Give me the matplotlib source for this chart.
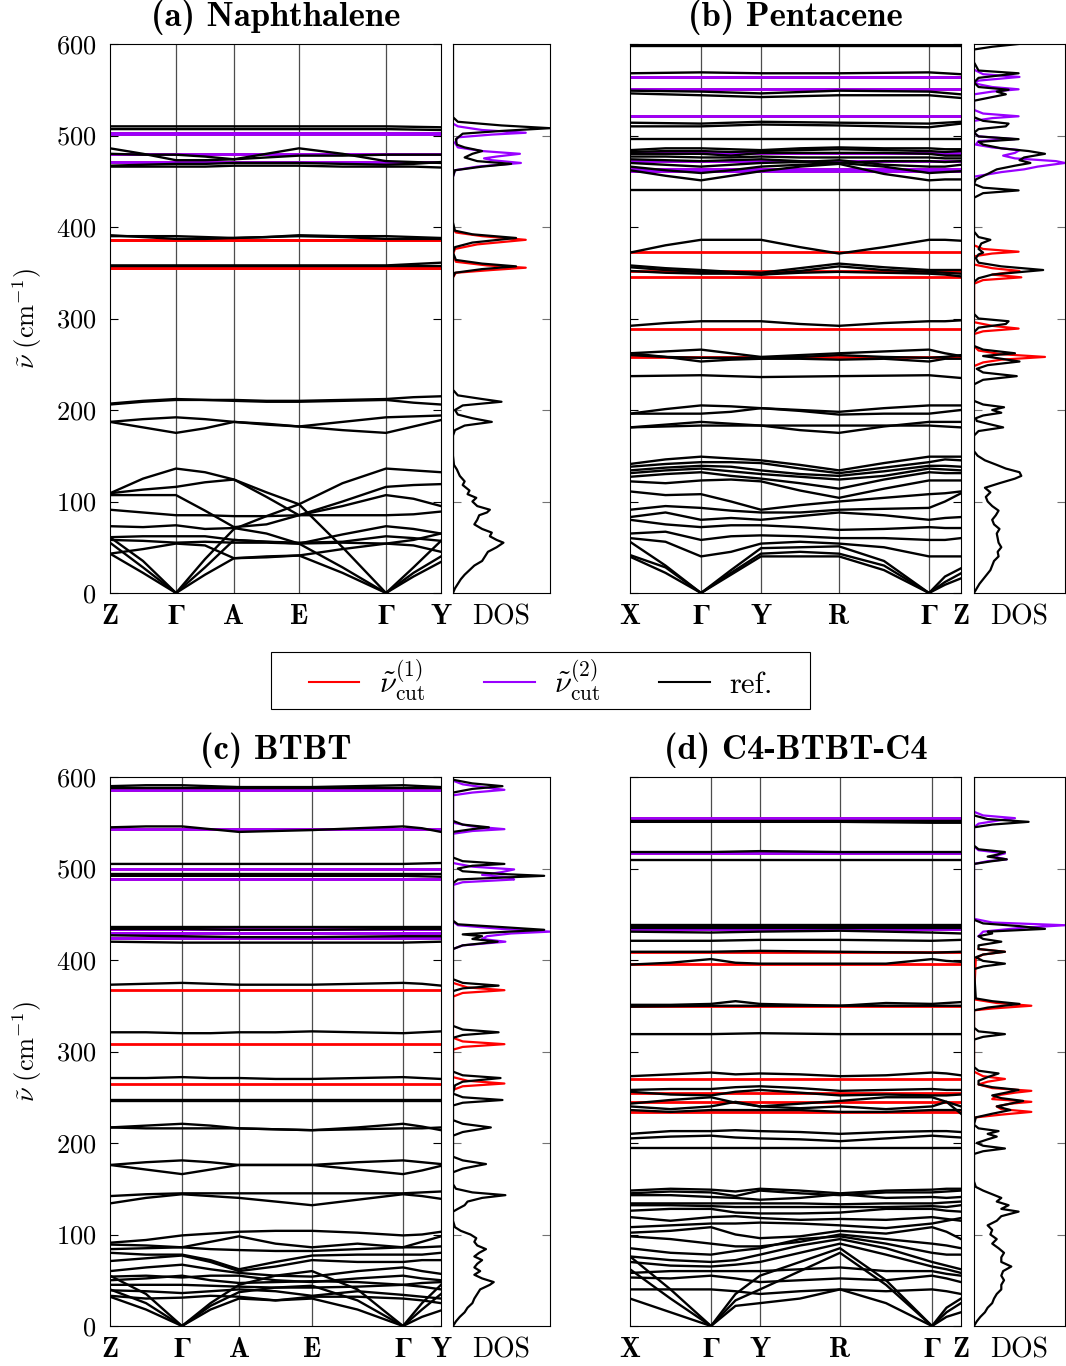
import numpy as np
import matplotlib.pyplot as plt
from matplotlib.lines import Line2D
from matplotlib.patches import Rectangle

plt.rcParams['mathtext.fontset'] = 'cm'
plt.rcParams['font.family'] = 'cmr10'
plt.rcParams['axes.formatter.use_mathtext'] = True

RED = '#ff0000'
PURPLE = '#9900ff'
BLACK = '#000000'

# ---------------- data ----------------
titles = ['(a) Naphthalene', '(b) Pentacene', '(c) BTBT', '(d) C4-BTBT-C4']
labels_ac = ['Z', r'$\mathbf{\Gamma}$', 'A', 'E', r'$\mathbf{\Gamma}$', 'Y']
labels_bd = ['X', r'$\mathbf{\Gamma}$', 'Y', 'R', r'$\mathbf{\Gamma}$', 'Z']
k_a = [0, 0.66, 1.24, 1.89, 2.76, 3.31]
k_b = [0, 0.71, 1.31, 2.09, 2.99, 3.31]
k_c = [0, 0.72, 1.29, 2.02, 2.93, 3.31]
k_d = [0, 0.81, 1.30, 2.10, 3.02, 3.31]

# bands: 6 values -> at high-symmetry points, 11 values -> also at segment midpoints
ref_a = [
    [510, 510, 510, 510, 510, 509],
    [507, 507, 507, 507, 507, 506],
    [486, 480, 473, 473, 474, 480, 486, 480, 472, 471, 470],
    [480, 479, 479, 477, 474, 476, 478, 478, 479, 479, 479],
    [467, 468, 469, 469, 470, 470, 470, 469, 468, 469, 471],
    [466, 466, 466, 466, 467, 467, 467, 466, 466, 466, 465],
    [391, 389, 387, 387, 388, 389, 390, 389, 387, 387, 387],
    [390, 390, 390, 389, 388, 389, 391, 390, 390, 389, 388],
    [358, 358, 358, 358, 358, 361],
    [357, 357, 357, 357, 357, 357],
    [207, 210, 212, 211, 211, 210, 210, 211, 212, 214, 215],
    [206, 209, 211, 211, 210, 209, 209, 210, 211, 208, 206],
    [187, 190, 192, 190, 187, 184, 182, 187, 192, 193, 194],
    [187, 181, 175, 180, 187, 185, 182, 178, 175, 182, 189],
    [109, 125, 136, 132, 124, 110, 97, 120, 136, 134, 132],
    [109, 113, 116, 121, 124, 105, 85, 100, 116, 118, 119],
    [107, 107, 107, 90, 72, 75, 85, 95, 107, 103, 95],
    [91, 88, 85, 85, 84, 84, 85, 85, 85, 86, 89],
    [73, 72, 74, 70, 71, 65, 54, 64, 73, 70, 65],
    [61, 62, 62, 62, 58, 56, 55, 56, 62, 60, 57],
    [58, 57, 55, 56, 55, 55, 54, 55, 54, 58, 65],
    [43, 48, 54, 52, 38, 39, 41, 48, 54, 52, 45],
    [61, 35, 0, 37, 70, 84, 97, 50, 0, 28, 57],
    [55, 28, 0, 28, 58, 56, 54, 28, 0, 22, 40],
    [43, 22, 0, 20, 38, 40, 41, 22, 0, 18, 34],
]
cut1_a = [503, 502, 479.5, 471, 386, 385.5, 355.5, 355]
cut2_a = [503, 502, 479.5, 471]

ref_b = [
    [599, 599, 599, 599, 599, 599],
    [598, 598, 598, 598, 598, 598],
    [568, 569, 568, 568, 569, 567],
    [549, 548, 546, 549, 548, 545],
    [546, 544, 542, 544, 544, 541],
    [514, 513, 515, 514, 513, 515],
    [510, 510, 512, 511, 509, 513],
    [496, 496, 496, 496, 496, 496],
    [484, 486, 486, 485, 484, 486, 487, 486, 486, 485, 485],
    [482, 483, 483, 482, 483, 484, 485, 484, 483, 482, 483],
    [480, 480, 480, 478, 481, 481, 481, 481, 480, 478, 478],
    [477, 477, 476, 476, 477, 476, 476, 476, 476, 475, 475],
    [474, 473, 472, 473, 474, 472, 470, 472, 472, 471, 472],
    [470, 468, 466, 468, 470, 471, 473, 468, 466, 466, 468],
    [466, 462, 459, 462, 466, 468, 470, 466, 459, 460, 461],
    [462, 456, 451, 456, 461, 466, 469, 458, 451, 452, 452],
    [440, 440, 440, 440, 440, 440],
    [372, 380, 386, 386, 386, 378, 371, 378, 386, 386, 385],
    [358, 355, 353, 351, 350, 355, 360, 356, 353, 353, 353],
    [356, 353, 351, 350, 348, 352, 357, 353, 351, 350, 349],
    [352, 350, 349, 349, 348, 350, 351, 350, 349, 348, 346],
    [292, 295, 297, 297, 297, 294, 292, 295, 297, 297, 298],
    [262, 264, 266, 262, 258, 260, 262, 264, 266, 262, 259],
    [262, 258, 253, 255, 256, 256, 255, 256, 253, 256, 256],
    [260, 258, 257, 257, 257, 258, 260, 258, 257, 258, 260],
    [237, 238, 236, 237, 238, 235],
    [196, 201, 205, 204, 202, 200, 198, 202, 205, 205, 205],
    [196, 196, 196, 198, 202, 199, 195, 196, 196, 198, 200],
    [181, 184, 187, 185, 183, 178, 175, 182, 187, 187, 187],
    [181, 182, 183, 183, 183, 183, 183, 183, 183, 182, 181],
    [141, 146, 149, 147, 145, 140, 134, 142, 149, 149, 149],
    [138, 141, 143, 143, 142, 136, 131, 137, 143, 146, 145],
    [134, 137, 139, 138, 134, 130, 128, 133, 139, 139, 138],
    [131, 134, 136, 133, 130, 127, 124, 128, 136, 135, 134],
    [127, 130, 132, 128, 125, 120, 114, 124, 132, 131, 131],
    [122, 120, 123, 124, 122, 112, 104, 114, 123, 123, 123],
    [111, 107, 108, 100, 91, 96, 100, 104, 108, 109, 111],
    [91, 95, 93, 90, 88, 88, 91, 92, 93, 100, 109],
    [83, 88, 80, 82, 80, 84, 88, 85, 80, 82, 83],
    [80, 75, 72, 74, 74, 72, 69, 70, 72, 71, 71],
    [65, 67, 58, 62, 63, 62, 60, 60, 58, 58, 60],
    [60, 56, 40, 45, 54, 56, 54, 50, 40, 40, 40],
    [56, 30, 0, 25, 49, 50, 51, 35, 0, 18, 27],
    [41.5, 28, 0, 22, 43, 45, 43, 30, 0, 12, 21.5],
    [39.7, 22, 0, 20, 40, 40, 40, 25, 0, 9, 16],
]
cut2_b = [564, 550.5, 521, 480.5, 472, 463, 461.5]
cut1_b = [564, 550.5, 521, 480.5, 472, 463, 461.5, 373, 352, 345, 289, 258]

ref_c = [
    [590, 591, 591, 590, 589, 589, 589, 590, 591, 590, 589],
    [588, 588, 588, 588, 588, 588],
    [545, 546, 546, 543, 540, 541, 542, 544, 546, 544, 540],
    [505, 505, 505, 505, 505, 506],
    [494, 494, 494, 494, 494, 494],
    [492, 492, 492, 492, 492, 491],
    [436, 436, 436, 436, 436, 436],
    [434, 434, 433, 433, 434, 434],
    [427, 426, 425, 425, 426, 426],
    [420, 419, 419, 419, 419, 420],
    [373, 374, 375, 374, 373, 373, 373, 374, 375, 374, 372],
    [321, 321, 320, 320, 321, 321, 322, 321, 320, 321, 322],
    [271, 271, 272, 271, 271, 270, 270, 271, 272, 271, 270],
    [247, 247, 247, 247, 247, 247],
    [246, 246, 246, 246, 246, 246],
    [217, 219, 221, 219, 216, 215, 214, 217, 221, 218, 214],
    [217, 216, 216, 216, 216, 215, 214, 215, 216, 216, 217],
    [176, 179, 181, 179, 176, 176, 176, 179, 181, 179, 177],
    [176, 171, 166, 171, 176, 176, 176, 171, 166, 170, 175],
    [142, 144, 145, 145, 145, 145, 145, 145, 145, 146, 147],
    [134, 140, 144, 142, 140, 136, 132, 138, 144, 142, 139],
    [91, 94, 99, 101, 103, 104, 104, 102, 99, 100, 103],
    [89, 88, 86, 92, 98, 90, 86, 90, 86, 92, 98],
    [84, 85, 86, 84, 83, 82, 82, 84, 86, 86, 87],
    [80, 78, 78, 72, 62, 70, 77, 78, 78, 78, 80],
    [71, 74, 77, 70, 60, 65, 72, 70, 70, 72, 72],
    [60, 64, 67, 62, 58, 55, 54, 60, 64, 60, 57],
    [54, 55, 53, 55, 55, 50, 48, 52, 55, 52, 50],
    [50, 52, 55, 50, 47, 48, 49, 48, 45, 47, 48],
    [45, 45, 45, 44, 43, 42, 42, 43, 45, 43, 40],
    [39, 38, 36, 38, 40, 38, 33, 38, 34, 32, 30],
    [33, 30, 31, 33, 32, 28, 32, 32, 30, 28, 25],
    [55, 35, 0, 25, 45, 55, 60, 40, 0, 25, 45],
    [40, 25, 0, 22, 37, 42, 44, 28, 0, 18, 35],
    [32, 18, 0, 18, 30, 28, 30, 18, 0, 10, 17],
]
cut2_c = [586, 543, 499, 488, 433.5, 429, 424]
cut1_c = [586, 543, 499, 488, 433.5, 429, 424, 367, 308, 265]

ref_d = [
    [552, 552, 552, 552, 552, 552],
    [551, 551, 551, 551, 550, 550],
    [518, 518, 519, 518, 518, 518],
    [509.5, 509.5, 509.5, 509.5, 509.5, 509.5],
    [438, 438, 438, 438, 438, 438],
    [436, 436, 436, 436, 436, 436],
    [434.5, 434.5, 434.5, 434.5, 434.5, 434.5],
    [431, 430, 431, 432, 430, 429],
    [421, 421, 422, 422, 421, 422],
    [409, 409, 410, 409, 408, 409],
    [395, 397, 401, 397, 396, 396, 396, 396, 401, 399, 398],
    [351, 351, 352, 355, 352, 351, 350, 353, 352, 353, 354],
    [349, 350, 350, 350, 350, 350],
    [319, 319, 320, 319, 319, 319],
    [273, 275, 277, 275, 276, 275, 273, 274, 277, 276, 274],
    [258, 259, 259, 261, 262, 260, 257, 258, 259, 258, 258],
    [256, 253, 252, 256, 258, 255, 252, 253, 252, 252, 253],
    [243, 247, 250, 244, 240, 243, 246, 250, 250, 245, 240],
    [240, 237, 240, 245, 240, 238, 240, 237, 240, 245, 232],
    [236, 234, 236, 236, 236, 236, 234, 234, 236, 236, 236],
    [210, 213, 213, 214, 213, 212, 210, 212, 213, 213, 212],
    [205, 207, 208, 206, 205, 204, 202, 205, 208, 207, 206],
    [194, 194, 194, 194, 194, 194],
    [148, 150, 149, 147, 150, 148, 145, 148, 149, 150, 150],
    [145, 147, 146, 142, 148, 145, 143, 146, 146, 147, 148],
    [143, 143, 141, 140, 138, 140, 144, 140, 141, 140, 141],
    [134, 134, 134, 134, 134, 134, 133, 134, 134, 135, 136],
    [132, 132, 131, 130, 130, 130, 130, 130, 131, 130, 132],
    [126, 128, 128, 124, 123, 123, 124, 128, 128, 126, 125],
    [119, 115, 119, 120, 118, 116, 117, 116, 119, 117, 115],
    [108, 110, 112, 112, 113, 112, 110, 107, 112, 115, 118],
    [102, 104, 108, 100, 96, 98, 104, 101, 108, 103, 95],
    [98, 95, 90, 87, 87, 92, 100, 95, 90, 88, 85],
    [85, 80, 78, 82, 85, 95, 98, 90, 80, 78, 78],
    [76, 72, 70, 72, 78, 88, 95, 85, 70, 66, 62],
    [70, 66, 65, 67, 70, 80, 90, 78, 65, 62, 58],
    [58, 60, 60, 60, 60, 62, 64, 60, 60, 57, 55],
    [53, 52, 55, 52, 48, 50, 52, 50, 55, 52, 48],
    [40, 40, 40, 38, 35, 38, 40, 38, 40, 38, 35],
    [76, 40, 0, 35, 55, 70, 85, 50, 0, 20, 30],
    [62, 30, 0, 28, 40, 60, 80, 45, 0, 15, 25],
    [30, 15, 0, 22, 25, 30, 40, 25, 0, 10, 15],
]
cut2_d = [555, 516.5, 438, 436, 434]
cut1_d = [555, 516.5, 438, 436, 434, 409, 395.5, 350, 269.6, 255, 245, 234]

# DOS curves: (frequency, dos) ; cut curves only where they differ from ref
dos_ref_a = [(0, 0), (5, 0.02), (10, 0.05), (15, 0.08), (20, 0.12), (25, 0.17), (30, 0.22),
             (35, 0.3), (40, 0.33), (45, 0.36), (50, 0.45), (55, 0.52), (58, 0.45), (62, 0.38),
             (66, 0.4), (70, 0.3), (75, 0.22), (80, 0.25), (85, 0.27), (88, 0.35), (91, 0.38),
             (95, 0.25), (100, 0.2), (104, 0.24), (108, 0.15), (112, 0.17), (118, 0.1),
             (122, 0.12), (128, 0.07), (135, 0.04), (140, 0.01), (150, 0), (172, 0), (178, 0.02),
             (183, 0.12), (187, 0.4), (191, 0.2), (195, 0.05), (200, 0.02), (205, 0.1),
             (209, 0.5), (212, 0.3), (216, 0.05), (222, 0), (345, 0), (350, 0.02), (354, 0.3),
             (357, 0.65), (360, 0.3), (364, 0.03), (372, 0), (378, 0.02), (383, 0.2), (388, 0.65),
             (392, 0.2), (396, 0.02), (405, 0), (455, 0), (462, 0.02), (466, 0.3), (469, 0.6),
             (472, 0.25), (476, 0.12), (480, 0.2), (483, 0.3), (487, 0.12), (490, 0.04),
             (496, 0.03), (502, 0.1), (505, 0.5), (508, 1.0), (511, 0.5), (515, 0.05), (520, 0),
             (600, 0)]
dos_cut1_a = [(345, 0), (350, 0.03), (353, 0.4), (355.5, 0.75), (358, 0.35), (362, 0.03),
              (370, 0), (376, 0.02), (381, 0.25), (386, 0.75), (390, 0.3), (394, 0.03), (398, 0)]
dos_cut2_a = [(455, 0), (462, 0.02), (466, 0.25), (470, 0.7), (473, 0.4), (475, 0.32),
              (477, 0.45), (480, 0.69), (483, 0.3), (487, 0.05), (492, 0.02), (498, 0.05),
              (501, 0.4), (503, 0.75), (506, 0.3), (510, 0.05), (513, 0)]

dos_ref_b = [(0, 0), (5, 0.03), (10, 0.06), (15, 0.1), (20, 0.14), (25, 0.18), (30, 0.2),
             (35, 0.22), (40, 0.27), (45, 0.26), (50, 0.3), (55, 0.27), (60, 0.26), (65, 0.25),
             (70, 0.28), (75, 0.22), (80, 0.2), (85, 0.24), (90, 0.27), (95, 0.2), (100, 0.15),
             (105, 0.13), (110, 0.18), (115, 0.12), (120, 0.28), (125, 0.45), (128, 0.52),
             (132, 0.5), (136, 0.35), (140, 0.25), (145, 0.12), (150, 0.04), (155, 0), (172, 0),
             (177, 0.05), (181, 0.32), (185, 0.15), (188, 0.03), (191, 0.02), (194, 0.1),
             (197, 0.3), (200, 0.2), (203, 0.33), (206, 0.1), (210, 0), (228, 0), (233, 0.1),
             (237, 0.47), (241, 0.1), (245, 0.03), (249, 0.15), (253, 0.5), (256, 0.3),
             (259, 0.1), (262, 0.45), (266, 0.1), (270, 0), (285, 0), (290, 0.05), (294, 0.35),
             (297, 0.38), (300, 0.05), (305, 0), (340, 0), (344, 0.05), (348, 0.2), (353, 0.76),
             (357, 0.3), (361, 0.05), (366, 0.02), (370, 0.05), (372, 0.1), (376, 0.05),
             (382, 0.08), (386, 0.18), (389, 0.05), (395, 0), (432, 0), (437, 0.1), (440, 0.49),
             (443, 0.1), (447, 0), (452, 0.02), (458, 0.15), (463, 0.25), (467, 0.45),
             (470, 0.62), (473, 0.5), (476, 0.55), (480, 0.78), (483, 0.6), (486, 0.3),
             (490, 0.1), (493, 0.05), (496, 0.49), (499, 0.05), (503, 0), (507, 0.05),
             (510, 0.35), (513, 0.38), (516, 0.1), (520, 0), (538, 0), (542, 0.2), (545, 0.35),
             (548, 0.25), (550, 0.38), (553, 0.05), (558, 0), (563, 0.05), (568, 0.49),
             (571, 0.05), (580, 0), (594, 0), (597, 0.2), (600, 0.49)]
dos_cut1_b = [(248, 0), (252, 0.1), (255, 0.3), (258, 0.78), (261, 0.3), (265, 0.05), (270, 0),
              (283, 0), (286, 0.1), (289, 0.49), (292, 0.2), (296, 0), (338, 0), (342, 0.1),
              (345, 0.52), (348, 0.2), (352, 0.5), (355, 0.2), (359, 0), (368, 0), (371, 0.2),
              (373, 0.49), (376, 0.1), (380, 0)]
dos_cut2_b = [(455, 0), (460, 0.3), (463, 0.55), (466, 0.7), (470, 1.0), (472, 0.9),
              (475, 0.45), (478, 0.32), (481, 0.45), (484, 0.5), (487, 0.2), (490, 0.02),
              (494, 0.05), (496, 0.45), (499, 0.05), (503, 0), (516, 0), (519, 0.2),
              (521, 0.49), (524, 0.1), (528, 0), (545, 0), (548, 0.2), (550.5, 0.49),
              (553, 0.2), (557, 0), (560, 0.05), (564, 0.5), (567, 0.1), (572, 0)]

dos_ref_c = [(0, 0), (5, 0.03), (10, 0.07), (15, 0.12), (20, 0.15), (25, 0.2), (30, 0.22),
             (35, 0.25), (40, 0.28), (45, 0.38), (48, 0.42), (52, 0.3), (56, 0.22), (60, 0.28),
             (64, 0.22), (68, 0.25), (72, 0.3), (76, 0.22), (80, 0.27), (84, 0.34), (88, 0.25),
             (92, 0.22), (96, 0.24), (100, 0.18), (104, 0.08), (108, 0.02), (115, 0), (125, 0),
             (128, 0.05), (132, 0.12), (136, 0.15), (140, 0.3), (143, 0.54), (146, 0.2),
             (150, 0.03), (155, 0), (168, 0), (172, 0.1), (177, 0.34), (181, 0.1), (185, 0),
             (208, 0), (212, 0.1), (217, 0.39), (221, 0.1), (225, 0), (241, 0), (244, 0.1),
             (247, 0.51), (250, 0.1), (254, 0), (263, 0.02), (267, 0.1), (271, 0.49),
             (274, 0.1), (278, 0), (315, 0), (318, 0.1), (321, 0.47), (324, 0.1), (328, 0),
             (366, 0), (369, 0.1), (372, 0.47), (375, 0.1), (379, 0), (412, 0), (416, 0.1),
             (420, 0.46), (423, 0.2), (426, 0.3), (428, 0.1), (430, 0.4), (433, 0.94),
             (436, 0.5), (439, 0.05), (443, 0), (484, 0), (488, 0.05), (492, 0.94), (494, 0.5),
             (497, 0.1), (500, 0.05), (503, 0.2), (505, 0.53), (508, 0.1), (512, 0), (540, 0),
             (543, 0.2), (545, 0.37), (548, 0.1), (552, 0), (583, 0), (587, 0.2), (590, 0.51),
             (593, 0.2), (597, 0), (600, 0)]
dos_cut1_c = [(258, 0), (262, 0.1), (265, 0.53), (268, 0.15), (272, 0), (302, 0), (305, 0.1),
              (308, 0.53), (311, 0.1), (315, 0), (360, 0), (364, 0.1), (367, 0.53), (370, 0.15),
              (375, 0)]
dos_cut2_c = [(412, 0), (416, 0.1), (420, 0.54), (423, 0.3), (426, 0.35), (429, 0.6),
              (431, 1.0), (434, 0.5), (438, 0.05), (442, 0), (482, 0), (485, 0.1), (488, 0.63),
              (490, 0.6), (493, 0.3), (496, 0.5), (499, 0.63), (502, 0.2), (506, 0), (538, 0),
              (541, 0.2), (543, 0.53), (546, 0.2), (550, 0), (580, 0), (583, 0.2), (586, 0.53),
              (589, 0.3), (592, 0.1), (596, 0)]

dos_ref_d = [(0, 0), (5, 0.03), (10, 0.07), (15, 0.12), (20, 0.15), (25, 0.2), (30, 0.22),
             (35, 0.25), (40, 0.3), (45, 0.3), (50, 0.33), (55, 0.3), (60, 0.32), (65, 0.41),
             (70, 0.3), (75, 0.3), (80, 0.33), (85, 0.27), (90, 0.2), (95, 0.25), (100, 0.18),
             (105, 0.2), (110, 0.15), (115, 0.25), (120, 0.3), (125, 0.49), (128, 0.3),
             (132, 0.38), (136, 0.25), (140, 0.3), (144, 0.2), (148, 0.1), (152, 0.02),
             (158, 0), (188, 0), (191, 0.1), (194, 0.34), (197, 0.1), (200, 0.03), (204, 0.15),
             (207, 0.25), (210, 0.15), (213, 0.27), (216, 0.05), (220, 0), (228, 0.02),
             (232, 0.2), (236, 0.4), (240, 0.25), (243, 0.4), (246, 0.54), (249, 0.3),
             (252, 0.2), (255, 0.35), (258, 0.49), (261, 0.2), (264, 0.05), (268, 0.05),
             (272, 0.15), (276, 0.27), (279, 0.05), (283, 0), (313, 0), (316, 0.1), (319, 0.34),
             (322, 0.05), (326, 0), (345, 0), (348, 0.15), (352, 0.5), (355, 0.2), (358, 0.02),
             (390, 0), (393, 0.1), (396, 0.34), (399, 0.1), (403, 0.02), (406, 0.1),
             (409, 0.34), (412, 0.05), (416, 0.05), (420, 0.3), (423, 0.1), (426, 0.05),
             (429, 0.2), (431, 0.15), (434, 0.78), (437, 0.5), (440, 0.1), (444, 0), (505, 0),
             (508, 0.2), (510, 0.36), (513, 0.15), (515, 0.25), (518, 0.34), (521, 0.05),
             (525, 0), (545, 0), (548, 0.2), (551, 0.6), (554, 0.15), (558, 0), (600, 0)]
dos_cut1_d = [(228, 0.02), (231, 0.3), (234, 0.63), (237, 0.3), (240, 0.25), (243, 0.4),
              (245, 0.63), (248, 0.2), (252, 0.25), (255, 0.45), (257, 0.63), (260, 0.2),
              (264, 0.05), (267, 0.15), (270, 0.34), (273, 0.1), (278, 0), (345, 0), (347, 0.2),
              (350, 0.63), (353, 0.25), (357, 0), (402, 0.02), (406, 0.1), (409, 0.34),
              (412, 0.05)]
dos_cut2_d = [(426, 0.05), (431, 0.1), (435, 0.5), (438, 1.0), (441, 0.2), (445, 0), (505, 0),
              (508, 0.15), (510, 0.36), (513, 0.2), (516.5, 0.34), (520, 0.05), (524, 0),
              (545, 0), (549, 0.05), (553, 0.3), (555, 0.45), (558, 0.1), (562, 0)]

# ---------------- figure ----------------
W, H = 1066, 1366
fig = plt.figure(figsize=(W / 100, H / 100), dpi=100)


def rect(x0, y0, x1, y1):
    return [x0 / W, 1 - y1 / H, (x1 - x0) / W, (y1 - y0) / H]


def with_mids(k):
    k = np.asarray(k, dtype=float)
    out = np.empty(2 * len(k) - 1)
    out[0::2] = k
    out[1::2] = (k[:-1] + k[1:]) / 2
    return out


def band_panel(r, k, labels, ref, cut1, cut2, title, ylab):
    ax = fig.add_axes(r)
    kn = with_mids(k)
    for lvl in cut1:
        ax.plot([k[0], k[-1]], [lvl, lvl], color=RED, lw=2.0)
    for lvl in cut2:
        ax.plot([k[0], k[-1]], [lvl, lvl], color=PURPLE, lw=2.0)
    for b in ref:
        xs = k if len(b) == len(k) else kn
        ax.plot(xs, b, color=BLACK, lw=1.7)
    for kk in k[1:-1]:
        ax.axvline(kk, color='0.3', lw=0.9, zorder=0)
    ax.set_xlim(k[0], k[-1])
    ax.set_ylim(0, 600)
    ax.set_yticks(range(0, 601, 100))
    ax.set_xticks(k)
    ax.set_xticklabels(labels, fontfamily='cmb10')
    for t in ax.get_xticklabels():
        if 'Gamma' in t.get_text():
            t.set_math_fontfamily('stix')
    ax.tick_params(axis='x', length=0, labelsize=20, pad=8)
    ax.tick_params(axis='y', direction='in', left=True, right=True, length=6,
                   width=0.8, labelsize=19, pad=10, labelleft=ylab)
    for s in ax.spines.values():
        s.set_linewidth(0.8)
    # title centred ~27 px above the axes top
    ax.text(0.5, 1 + 27 / 549, title, transform=ax.transAxes, ha='center', va='center',
            fontfamily='cmb10', fontsize=25)
    if ylab:
        ax.set_ylabel(r'$\tilde{\nu}\ (\mathrm{cm}^{-1})$', fontsize=19)
        ax.yaxis.set_label_coords(-0.2, 0.5)
    return ax


def dos_panel(r, ref, c1, c2):
    ax = fig.add_axes(r)
    for d, col in ((c1, RED), (c2, PURPLE), (ref, BLACK)):
        f, v = np.array(d).T
        ax.plot(v, f, color=col, lw=1.6)
    ax.set_xlim(0, 1)
    ax.set_ylim(0, 600)
    ax.set_yticks(range(100, 600, 100))
    ax.set_yticklabels([])
    ax.set_xticks([0.5])
    ax.set_xticklabels(['DOS'])
    ax.tick_params(axis='x', length=0, labelsize=20, pad=8)
    ax.tick_params(axis='y', direction='in', left=True, right=True, length=6,
                   width=0.8, color='0.45')
    for s in ax.spines.values():
        s.set_linewidth(0.8)
    return ax


band_panel(rect(110, 44, 441, 593), k_a, labels_ac, ref_a, cut1_a, cut2_a, titles[0], True)
dos_panel(rect(453, 44, 550, 593), dos_ref_a, dos_cut1_a, dos_cut2_a)
band_panel(rect(630, 44, 961, 593), k_b, labels_bd, ref_b, cut1_b, cut2_b, titles[1], False)
dos_panel(rect(974, 44, 1065, 593), dos_ref_b, dos_cut1_b, dos_cut2_b)
band_panel(rect(110, 777, 441, 1326), k_c, labels_ac, ref_c, cut1_c, cut2_c, titles[2], True)
dos_panel(rect(453, 777, 550, 1326), dos_ref_c, dos_cut1_c, dos_cut2_c)
band_panel(rect(630, 777, 961, 1326), k_d, labels_bd, ref_d, cut1_d, cut2_d, titles[3], False)
dos_panel(rect(974, 777, 1065, 1326), dos_ref_d, dos_cut1_d, dos_cut2_d)

# legend (frame drawn separately so it can be wider than tall)
handles = [Line2D([], [], color=RED, lw=1.5),
           Line2D([], [], color=PURPLE, lw=1.5),
           Line2D([], [], color=BLACK, lw=1.5)]
leg_labels = [r'$\tilde{\nu}^{(1)}_{\mathrm{cut}}$', r'$\tilde{\nu}^{(2)}_{\mathrm{cut}}$', 'ref.']
fig.legend(handles, leg_labels, loc='center', bbox_to_anchor=(541 / W, 1 - 680 / H),
           ncol=3, fontsize=22, frameon=False, handlelength=1.65, handletextpad=0.65,
           columnspacing=1.9, borderpad=0.2, borderaxespad=0)
fig.patches.append(Rectangle((271 / W, 1 - 709 / H), 539 / W, 57 / H, transform=fig.transFigure,
                             fill=False, edgecolor='black', lw=0.8))

fig.savefig('out.png', dpi=100, facecolor='white')
